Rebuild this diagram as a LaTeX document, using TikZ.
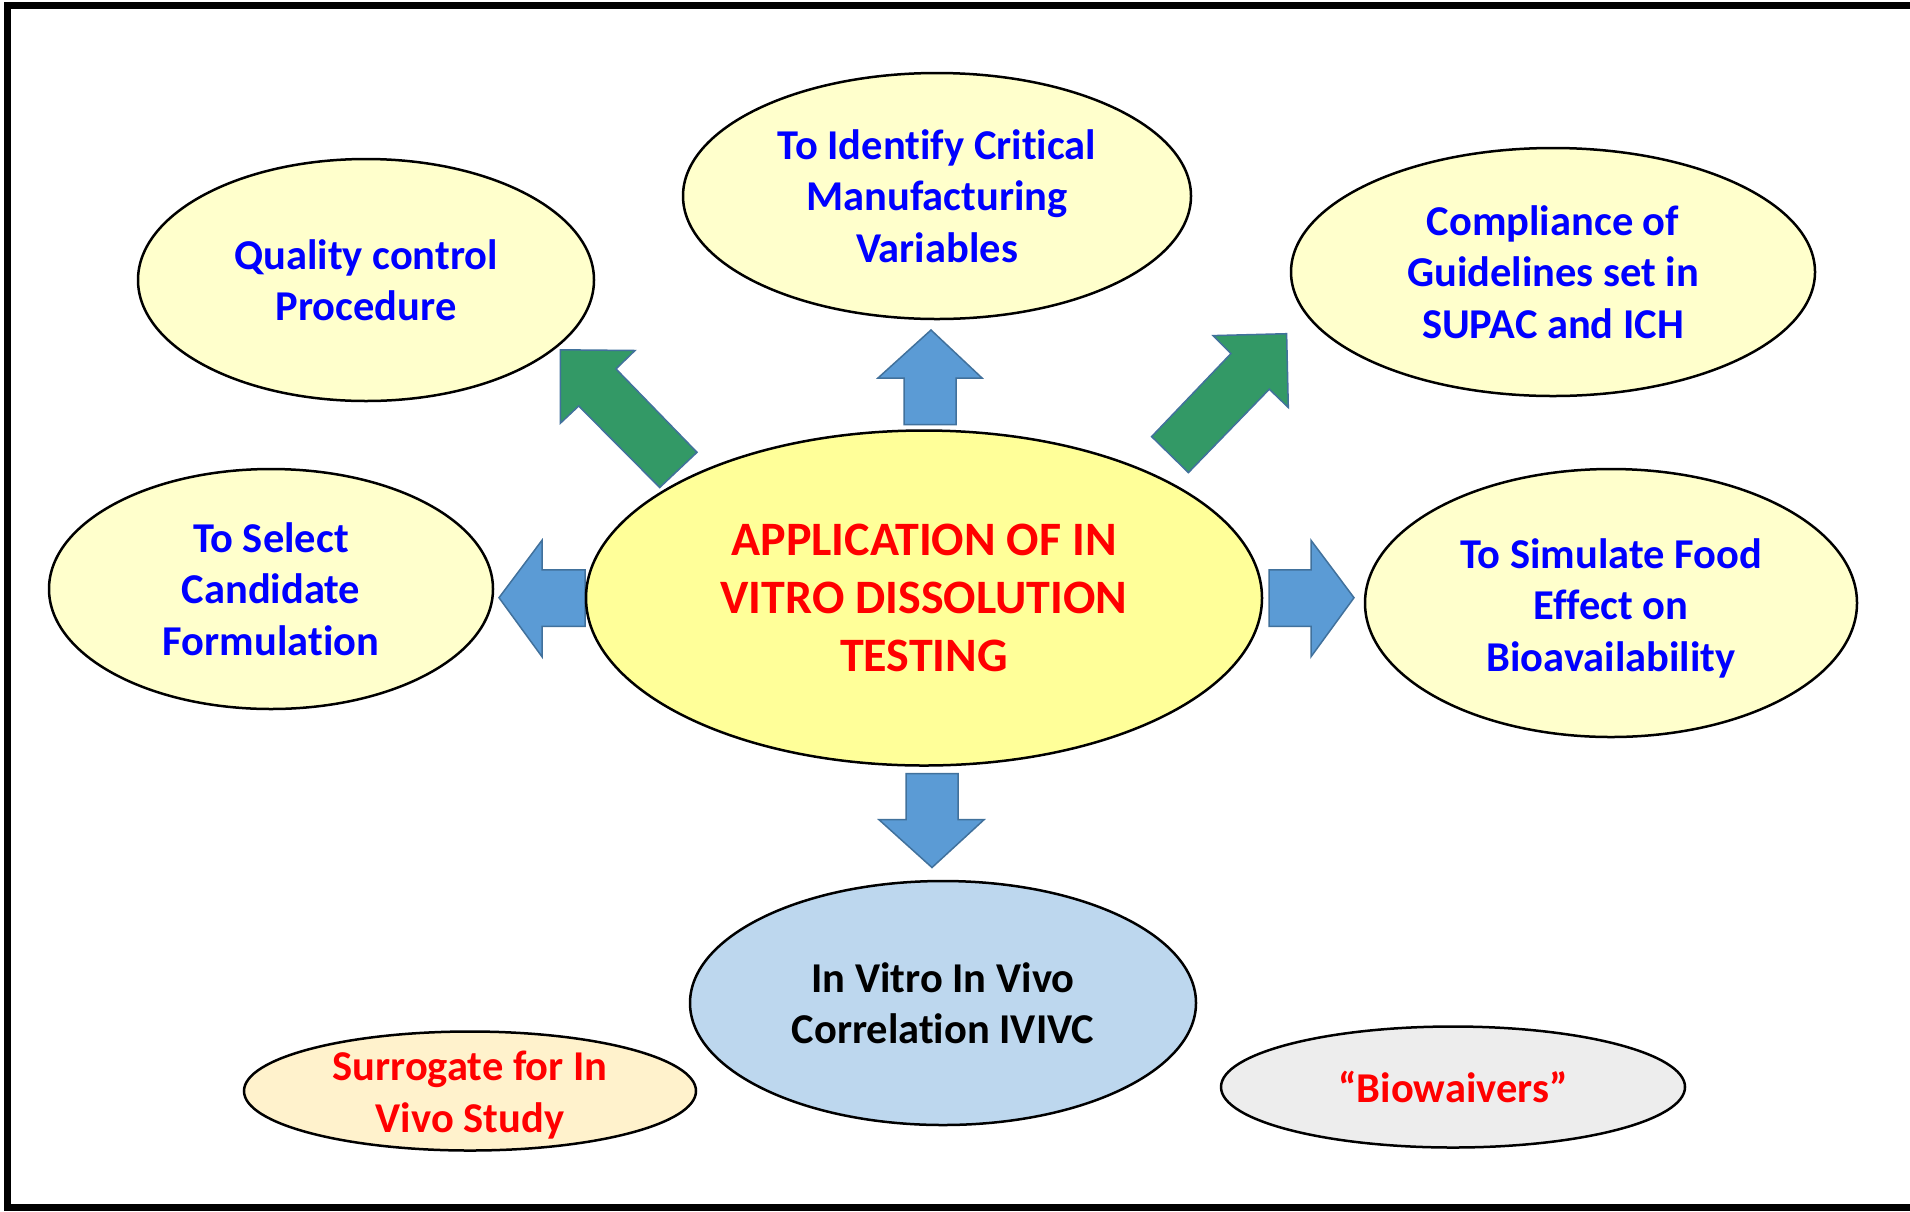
\documentclass[tikz,border=0pt]{standalone}
\usepackage{fontspec}
\setmainfont{Carlito}[Ligatures=CommonOff]
\usetikzlibrary{shapes.geometric}
\definecolor{paleyellow}{HTML}{FFFFCC}
\definecolor{midyellow}{HTML}{FFFF99}
\definecolor{paleblue}{HTML}{BDD7EE}
\definecolor{cream}{HTML}{FFF2CC}
\definecolor{palegrey}{HTML}{EDEDED}
\definecolor{tblue}{HTML}{0000FF}
\definecolor{tred}{HTML}{FF0000}
\definecolor{arrowblue}{HTML}{5B9BD5}
\definecolor{arrowgreen}{HTML}{339966}
\definecolor{arrowedge}{HTML}{41719C}
\newcommand{\pushdown}[1]{\rule{0pt}{#1}}
\tikzset{
  bubble/.style={ellipse, draw=black, line width=2.5pt, inner sep=0pt, align=center,
    font=\fontsize{42.5}{51.5}\selectfont\bfseries},
  bigtext/.style={font=\fontsize{48}{58}\selectfont\bfseries},
  bluearrow/.style={fill=arrowblue, draw=arrowedge, line width=1.5pt, line join=miter},
  greenarrow/.style={fill=arrowgreen, draw=arrowedge, line width=1.5pt, line join=miter},
  frame/.style={line width=7pt, draw=black}
}
\begin{document}
\begin{tikzpicture}[x=1pt,y=-1pt]
\useasboundingbox (0,0) rectangle (1910,1211);
\fill[white] (0,0) rectangle (1910,1211);
\draw[frame] (1910,5.5) -- (7.5,5.5) -- (7.5,1207.5) -- (1910,1207.5);

% block arrows
\draw[bluearrow] (931,330) -- (982,378) -- (956,378) -- (956,424.5) -- (904,424.5) -- (904,378) -- (878,378) -- cycle;
\draw[bluearrow] (906,773.5) -- (958,773.5) -- (958,819.7) -- (984,819.7) -- (932,867.5) -- (879,819.7) -- (906,819.7) -- cycle;
\draw[bluearrow] (499,597.7) -- (542,540.3) -- (542,569.8) -- (585,569.8) -- (585,626.4) -- (542,626.4) -- (542,656.7) -- cycle;
\draw[bluearrow] (1269,569.8) -- (1311,569.8) -- (1311,540.3) -- (1354,597.7) -- (1311,656.7) -- (1311,626.4) -- (1269,626.4) -- cycle;
\draw[greenarrow] (560.4,349.8) -- (635,350.5) -- (616,368.9) -- (697,452.3) -- (659.7,487.5) -- (578.7,406) -- (560.4,423.2) -- cycle;
\draw[greenarrow] (1286.6,333.7) -- (1213.1,335.6) -- (1230.9,353.6) -- (1151.6,436.6) -- (1188.4,472.6) -- (1269.3,389.2) -- (1288.3,407.5) -- cycle;

% ellipses
\node[bubble, fill=paleyellow, text=tblue, minimum width=456pt, minimum height=242pt] (qc) at (366,280) {Quality control\\Procedure};
\node[bubble, fill=paleyellow, text=tblue, minimum width=508pt, minimum height=246pt] (ident) at (937,196) {To Identify Critical\\Manufacturing\\Variables};
\node[bubble, fill=paleyellow, text=tblue, minimum width=524pt, minimum height=248pt] (comp) at (1553,272) {Compliance of\\Guidelines set in\\SUPAC and ICH};
\node[bubble, fill=paleyellow, text=tblue, minimum width=444pt, minimum height=240pt] (sel) at (271,589) {To Select\\Candidate\\Formulation};
\node[bubble, bigtext, fill=midyellow, text=tred, minimum width=676pt, minimum height=335pt] (app) at (924,598) {APPLICATION OF IN\\VITRO DISSOLUTION\\TESTING};
\node[bubble, fill=paleyellow, text=tblue, minimum width=492pt, minimum height=268pt] (sim) at (1611,603) {\pushdown{40pt}To Simulate Food\\Effect on\\Bioavailability};
\node[bubble, fill=paleblue, text=black, minimum width=506pt, minimum height=244pt] (ivivc) at (943,1003) {In Vitro In Vivo\\Correlation IVIVC};
\node[bubble, inner ysep=-30pt, fill=cream, text=tred, minimum width=452pt, minimum height=119pt] (sur) at (470,1091) {\pushdown{38pt}Surrogate for In\\Vivo Study};
\node[bubble, inner ysep=-30pt, fill=palegrey, text=tred, minimum width=464pt, minimum height=121pt] (bio) at (1453,1087) {“Biowaivers”};
\end{tikzpicture}
\end{document}
